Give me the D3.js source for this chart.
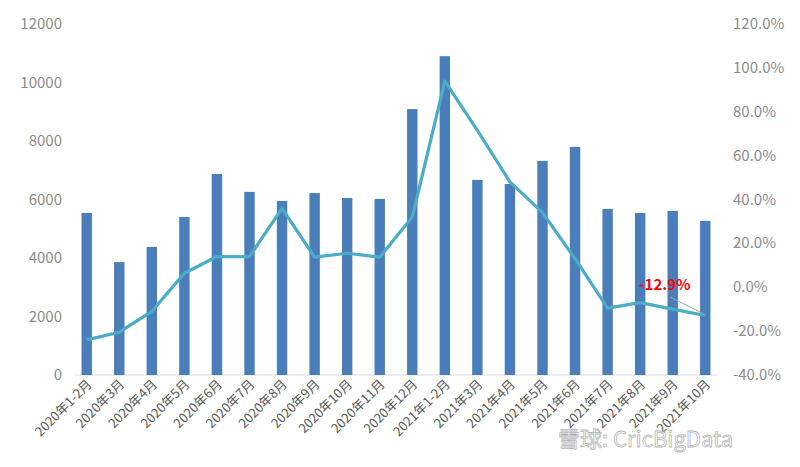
<!DOCTYPE html>
<html><head><meta charset="utf-8">
<script src="https://cdn.jsdelivr.net/npm/d3@7"></script>
<style>body{margin:0;background:#fff;font-family:"Noto Sans CJK SC","Noto Sans",sans-serif;}</style>
</head><body><svg id="c" width="800" height="467"></svg>
<script>
const months = ["2020年1-2月","2020年3月","2020年4月","2020年5月","2020年6月","2020年7月","2020年8月","2020年9月","2020年10月","2020年11月","2020年12月","2021年1-2月","2021年3月","2021年4月","2021年5月","2021年6月","2021年7月","2021年8月","2021年9月","2021年10月"];
const sales = [5540,3860,4380,5400,6870,6260,5950,6220,6050,6020,9090,10900,6670,6530,7320,7800,5680,5540,5610,5270];
const growth = [-24,-20.5,-11,6.4,14,14,36,13.7,15.5,13.7,32,94,71.5,48,34,13,-9.5,-7,-10,-12.9];
const leftTicks = [0,2000,4000,6000,8000,10000,12000];
const rightTicks = [-40,-20,0,20,40,60,80,100,120];

const svg = d3.select("#c");
const x = d3.scaleBand().domain(months).range([75, 717]).paddingInner(0.68).paddingOuter(0.2);
const yL = d3.scaleLinear().domain([0,12000]).range([375,24]);
const yR = d3.scaleLinear().domain([-40,120]).range([375,24]);

svg.append("g").selectAll("text").data(leftTicks).join("text")
  .attr("x", 62).attr("y", d => yL(d) + 5).attr("text-anchor","end")
  .attr("fill","#8c8c8c").attr("font-size",15).text(d => d);
svg.append("g").selectAll("text").data(rightTicks).join("text")
  .attr("x", 733).attr("y", d => yR(d) + 5)
  .attr("fill","#8c8c8c").attr("font-size",15).text(d => d.toFixed(1) + "%");

svg.append("line").attr("x1",75).attr("x2",717).attr("y1",375).attr("y2",375).attr("stroke","#d9d9d9");

svg.append("g").selectAll("rect").data(sales).join("rect")
  .attr("x", (d,i) => x(months[i])).attr("width", x.bandwidth())
  .attr("y", d => yL(d)).attr("height", d => 375 - yL(d))
  .attr("fill","#4a7ebb");

const line = d3.line().x((d,i) => x(months[i]) + x.bandwidth()/2).y(d => yR(d));
svg.append("path").datum(growth).attr("d", line)
  .attr("fill","none").attr("stroke","#4bacc6").attr("stroke-width",3.2).attr("stroke-linejoin","round");

const lx = x(months[19]) + x.bandwidth()/2, ly = yR(growth[19]);
svg.append("line").attr("x1", 670).attr("y1", 297).attr("x2", lx - 2).attr("y2", ly - 2)
  .attr("stroke","#a6a6a6").attr("stroke-width",1);
svg.append("text").attr("x", 639).attr("y", 290).attr("fill","#ff0000")
  .attr("font-size",15).attr("font-weight","bold").text("-12.9%");

svg.append("g").selectAll("text").data(months).join("text")
  .attr("transform", d => `translate(${x(d) + x.bandwidth()/2 + 6},${385}) rotate(-45)`)
  .attr("text-anchor","end").attr("fill","#595959").attr("font-size",13).text(d => d);

svg.append("text").attr("x", 558).attr("y", 447).attr("fill","#ffffff").attr("stroke","#aaaaaa")
  .attr("stroke-width",0.8).attr("opacity",0.85).attr("font-size",22).text("雪球: CricBigData");
</script></body></html>
